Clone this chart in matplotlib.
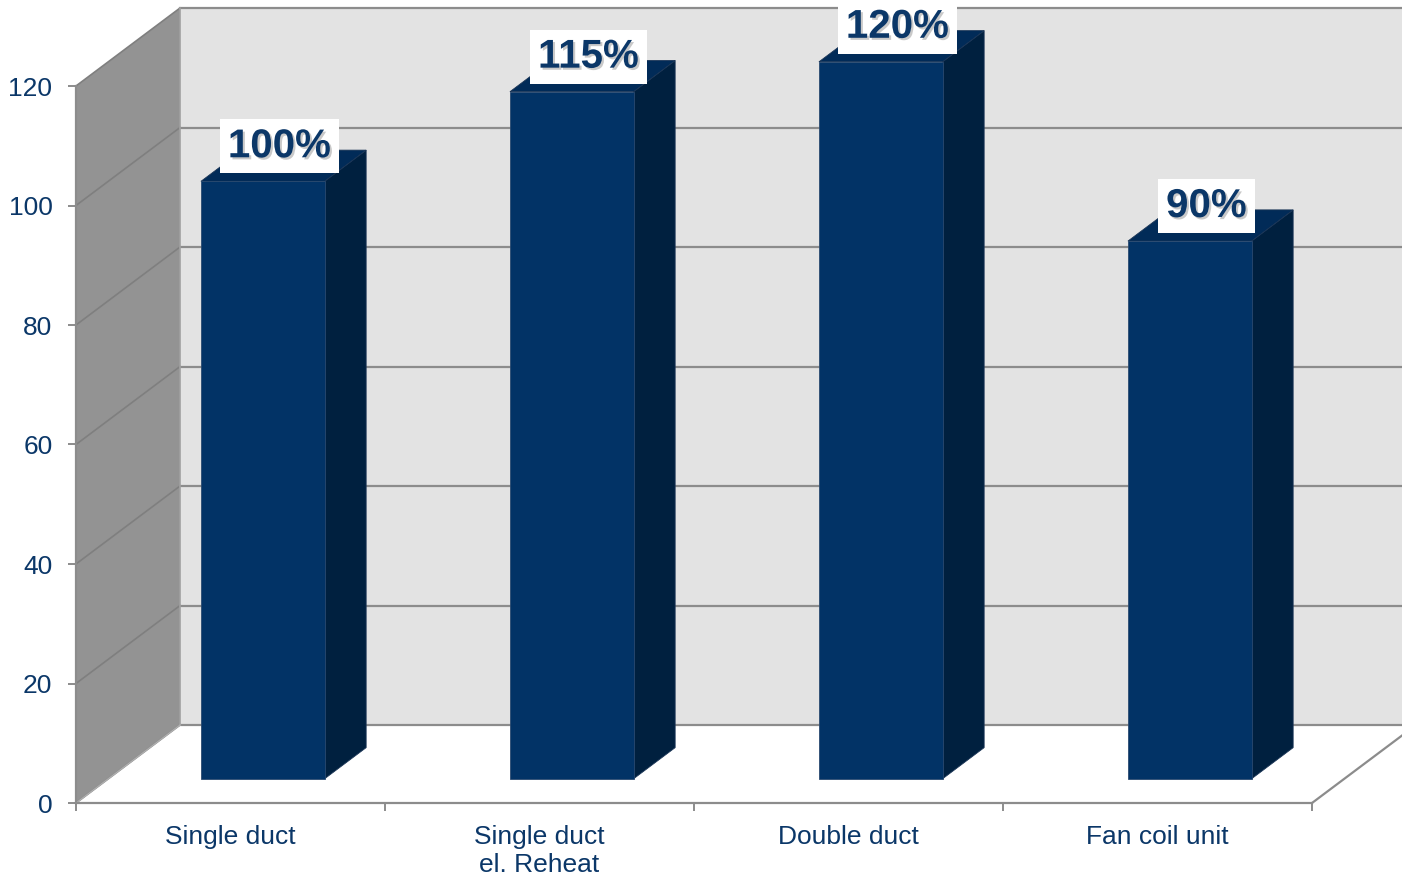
import matplotlib
matplotlib.use("Agg")
import matplotlib.pyplot as plt
import matplotlib.patheffects as pe
from matplotlib.patches import Polygon

plt.rcParams['font.family'] = ['Liberation Sans', 'DejaVu Sans']

categories = ["Single duct", "Single duct\nel. Reheat", "Double duct", "Fan coil unit"]
values = [100, 115, 120, 90]
labels = ["100%", "115%", "120%", "90%"]
yticks = [0, 20, 40, 60, 80, 100, 120]

# oblique depth offset (category units, value units)
DX = 0.3366
DY = 13.05
D0, D1 = 0.31, 0.71      # bar front / back depth fraction
HALF = 0.2               # half bar width
YMAX = 120

text_col = "#0b3768"
front_col = "#023366"
top_col = "#012b58"
side_col = "#00203f"
grid_col = "#8c8c8c"


def proj(x, y, d):
    return (x + d * DX, y + d * DY)


fig = plt.figure(figsize=(14.02, 8.8), dpi=100)
ax = fig.add_axes([76 / 1402, 77 / 880, (1312 - 76) / 1402, 717 / 880])
n = len(categories)
ax.set_xlim(0, n)
ax.set_ylim(0, YMAX)
ax.set_facecolor("none")

# walls and floor
floor = Polygon([proj(0, 0, 0), proj(n, 0, 0), proj(n, 0, 1), proj(0, 0, 1)],
                closed=True, fc="white", ec="none", zorder=0, clip_on=False)
back = Polygon([proj(0, 0, 1), proj(n, 0, 1), proj(n, YMAX, 1), proj(0, YMAX, 1)],
               closed=True, fc="#e3e3e3", ec="none", zorder=0, clip_on=False)
left = Polygon([proj(0, 0, 0), proj(0, 0, 1), proj(0, YMAX, 1), proj(0, YMAX, 0)],
               closed=True, fc="#939393", ec="none", zorder=0, clip_on=False)
for p in (floor, back, left):
    ax.add_patch(p)

for v in yticks:
    (x0, y0), (x1, y1) = proj(0, v, 0), proj(0, v, 1)
    ax.plot([x0, x1], [y0, y1], color="#7f7f7f", lw=1.2, zorder=1, clip_on=False)
    (x2, y2) = proj(n, v, 1)
    ax.plot([x1, x2], [y1, y2], color=grid_col, lw=1.6, zorder=1, clip_on=False)
# left/back edge and floor edges
(xa, ya), (xb, yb) = proj(0, 0, 1), proj(0, YMAX, 1)
ax.plot([xa, xb], [ya, yb], color="#a0a0a0", lw=1.2, zorder=1, clip_on=False)
(xa, ya), (xb, yb) = proj(n, 0, 0), proj(n, 0, 1)
ax.plot([xa, xb], [ya, yb], color=grid_col, lw=1.6, zorder=1, clip_on=False)
(xa, ya), (xb, yb) = proj(0, 0, 0), proj(0, 0, 1)
ax.plot([xa, xb], [ya, yb], color="#b0b0b0", lw=1.0, zorder=1, clip_on=False)

# bars
for i, v in enumerate(values):
    xl, xr = i + 0.5 - HALF, i + 0.5 + HALF
    front = [proj(xl, 0, D0), proj(xr, 0, D0), proj(xr, v, D0), proj(xl, v, D0)]
    side = [proj(xr, 0, D0), proj(xr, 0, D1), proj(xr, v, D1), proj(xr, v, D0)]
    top = [proj(xl, v, D0), proj(xr, v, D0), proj(xr, v, D1), proj(xl, v, D1)]
    ax.add_patch(Polygon(side, closed=True, fc=side_col, ec="#1b3556", lw=0.6,
                         zorder=3, clip_on=False))
    ax.add_patch(Polygon(top, closed=True, fc=top_col, ec="#1b3556", lw=0.6,
                         zorder=3, clip_on=False))
    ax.add_patch(Polygon(front, closed=True, fc=front_col, ec="#2a4a70", lw=0.6,
                         zorder=4, clip_on=False))
    cx, cy = proj(i + 0.5, v, (D0 + D1) / 2)
    ax.annotate(labels[i], (cx, cy), xytext=(-3, 14), textcoords="offset points",
                ha="center", va="center", fontsize=29, fontweight="bold",
                color=text_col, zorder=6, annotation_clip=False,
                bbox=dict(boxstyle="square,pad=0.2", fc="white", ec="none"),
                path_effects=[pe.withSimplePatchShadow(offset=(1.5, -1.5),
                                                       shadow_rgbFace="#666666",
                                                       alpha=0.35)])

# axes
for s in ("top", "right"):
    ax.spines[s].set_visible(False)
for s in ("left", "bottom"):
    ax.spines[s].set_color(grid_col)
    ax.spines[s].set_linewidth(1.6)
    ax.spines[s].set_zorder(2)
ax.set_yticks(yticks)
ax.set_yticklabels([str(t) for t in yticks])
ax.set_xticks(range(n + 1))
ax.set_xticklabels([])
ax.set_xticks([i + 0.5 for i in range(n)], minor=True)
ax.set_xticklabels(categories, minor=True)
ax.tick_params(axis="y", direction="out", length=6, width=1.4, color=grid_col,
               labelcolor=text_col, labelsize=19, pad=11)
ax.tick_params(axis="x", which="major", direction="out", length=6, width=1.4,
               color=grid_col)
ax.tick_params(axis="x", which="minor", length=0, labelcolor=text_col,
               labelsize=19, pad=16)

fig.savefig("out.png", dpi=100)
